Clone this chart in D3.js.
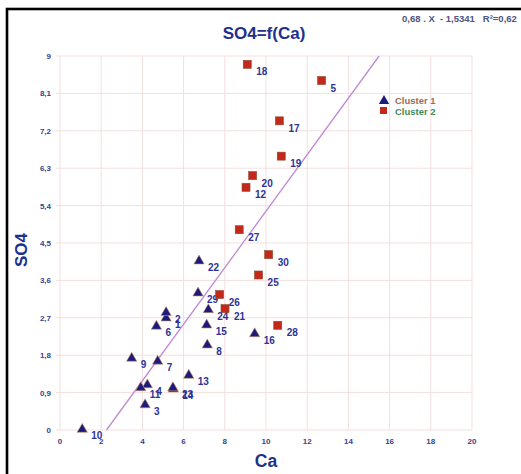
<!DOCTYPE html>
<html>
<head>
<meta charset="utf-8">
<script src="https://cdnjs.cloudflare.com/ajax/libs/d3/7.8.5/d3.min.js"></script>
<style>
  body { margin: 0; background: #fff; }
  svg { display: block; font-family: Arial, "Liberation Sans", sans-serif; }
</style>
</head>
<body>
<script>
// cluster 1 (triangles)
const c1Labels = ["1", "2", "3", "4", "6", "7", "8", "9", "10", "11", "13", "14", "15", "16", "22", "23", "24", "29"]
const c1Ca =     [5.15, 5.15, 4.13, 4.24, 4.68, 4.74, 7.15, 3.48, 1.08, 3.92, 6.25, 5.50, 7.12, 9.45, 6.75, 5.48, 7.20, 6.70]
const c1SO4 =    [2.72, 2.85, 0.63, 1.11, 2.52, 1.68, 2.07, 1.75, 0.04, 1.04, 1.34, 1.01, 2.55, 2.34, 4.09, 1.04, 2.92, 3.32]

// cluster 2 (squares)
const c2Labels = ["5", "12", "17", "18", "19", "20", "21", "25", "26", "27", "28", "30"]
const c2Ca =     [12.70, 9.03, 10.65, 9.09, 10.74, 9.35, 8.01, 9.64, 7.75, 8.70, 10.57, 10.13]
const c2SO4 =    [8.41, 5.84, 7.44, 8.80, 6.59, 6.12, 2.92, 3.73, 3.26, 4.82, 2.52, 4.22]

const xTicks = [0, 2, 4, 6, 8, 10, 12, 14, 16, 18, 20]
const yTicks = [0, 0.9, 1.8, 2.7, 3.6, 4.5, 5.4, 6.3, 7.2, 8.1, 9]

const slope = 0.68
const intercept = -1.5341

const width = 521
const height = 474

const svg = d3.select("body").append("svg")
    .attr("width", width)
    .attr("height", height)

const x = d3.scaleLinear().domain([0, 20]).range([60, 472])
const y = d3.scaleLinear().domain([0, 9]).range([430, 56])

const fmt = d => d3.format("~g")(d).replace(".", ",")

// frame
svg.append("rect")
    .attr("x", 7).attr("y", 9)
    .attr("width", width + 20).attr("height", height + 20)
    .attr("fill", "none")
    .attr("stroke", "#000")
    .attr("stroke-width", 2.6)

// grid
const grid = svg.append("g").attr("stroke", "#f3dfdf").attr("stroke-width", 1)
grid.selectAll("line.v").data(xTicks).join("line")
    .attr("class", "v")
    .attr("x1", d => x(d)).attr("x2", d => x(d))
    .attr("y1", y(9)).attr("y2", y(0))
grid.selectAll("line.h").data(yTicks).join("line")
    .attr("class", "h")
    .attr("x1", x(0) - 4).attr("x2", x(20))
    .attr("y1", d => y(d)).attr("y2", d => y(d))

// tick labels
svg.append("g")
    .selectAll("text").data(yTicks).join("text")
    .attr("x", 51)
    .attr("y", d => y(d) + 3)
    .attr("text-anchor", "end")
    .attr("font-size", 8)
    .attr("font-weight", "bold")
    .attr("fill", "#3b3f8c")
    .text(fmt)

svg.append("g")
    .selectAll("text").data(xTicks).join("text")
    .attr("x", d => x(d))
    .attr("y", 444)
    .attr("text-anchor", "middle")
    .attr("font-size", 8)
    .attr("font-weight", "bold")
    .attr("fill", "#3b3f8c")
    .text(fmt)

// titles
svg.append("text")
    .attr("x", 264).attr("y", 39)
    .attr("text-anchor", "middle")
    .attr("font-size", 17)
    .attr("font-weight", "bold")
    .attr("fill", "#22308c")
    .text("SO4=f(Ca)")

svg.append("text")
    .attr("x", 266).attr("y", 467)
    .attr("text-anchor", "middle")
    .attr("font-size", 17.5)
    .attr("font-weight", "bold")
    .attr("fill", "#22308c")
    .text("Ca")

svg.append("text")
    .attr("transform", "translate(27,250) rotate(-90)")
    .attr("text-anchor", "middle")
    .attr("font-size", 17)
    .attr("font-weight", "bold")
    .attr("fill", "#22308c")
    .text("SO4")

svg.append("text")
    .attr("x", 402).attr("y", 22)
    .attr("font-size", 9.5)
    .attr("font-weight", "bold")
    .attr("fill", "#4d5583")
    .attr("xml:space", "preserve")
    .text("0,68 . X  - 1,5341   R²=0,62")

// regression line, clipped to the plot box
const x0 = -intercept / slope
const x1 = (9 - intercept) / slope
svg.append("line")
    .attr("x1", x(x0)).attr("y1", y(slope * x0 + intercept))
    .attr("x2", x(x1)).attr("y2", y(slope * x1 + intercept))
    .attr("stroke", "#c08ad2")
    .attr("stroke-width", 1.3)

const tri = d3.symbol().type(d3.symbolTriangle).size(46)
const labelStyle = sel => sel
    .attr("font-size", 10)
    .attr("font-weight", "bold")
    .attr("fill", "#2d3296")

// cluster 1
const pts1 = c1Labels.map((l, i) => ({ label: l, ca: c1Ca[i], so4: c1SO4[i] }))
svg.append("g").selectAll("path").data(pts1).join("path")
    .attr("d", tri)
    .attr("transform", d => `translate(${x(d.ca)},${y(d.so4) + 1})`)
    .attr("fill", "#1d1a7e")
    .attr("stroke", "#c89560")
    .attr("stroke-width", 0.6)
svg.append("g").selectAll("text").data(pts1).join("text")
    .attr("x", d => x(d.ca) + 9)
    .attr("y", d => y(d.so4) + 11)
    .call(labelStyle)
    .text(d => d.label)

// cluster 2
const pts2 = c2Labels.map((l, i) => ({ label: l, ca: c2Ca[i], so4: c2SO4[i] }))
svg.append("g").selectAll("rect").data(pts2).join("rect")
    .attr("x", d => x(d.ca) - 4)
    .attr("y", d => y(d.so4) - 4)
    .attr("width", 8).attr("height", 8)
    .attr("fill", "#c4281b")
    .attr("stroke", "#8a4a2a")
    .attr("stroke-width", 0.6)
svg.append("g").selectAll("text").data(pts2).join("text")
    .attr("x", d => x(d.ca) + 9)
    .attr("y", d => y(d.so4) + 11)
    .call(labelStyle)
    .text(d => d.label)

// legend
const legend = svg.append("g")
legend.append("path")
    .attr("d", tri)
    .attr("transform", "translate(384,101)")
    .attr("fill", "#1d1a7e")
legend.append("rect")
    .attr("x", 380).attr("y", 107)
    .attr("width", 7).attr("height", 7)
    .attr("fill", "#c4281b")
legend.append("text")
    .attr("x", 395).attr("y", 104)
    .attr("font-size", 9.5)
    .attr("font-weight", "bold")
    .attr("fill", "#9c6c52")
    .text("Cluster 1")
legend.append("text")
    .attr("x", 395).attr("y", 115)
    .attr("font-size", 9.5)
    .attr("font-weight", "bold")
    .attr("fill", "#3f8a5c")
    .text("Cluster 2")
</script>
</body>
</html>
